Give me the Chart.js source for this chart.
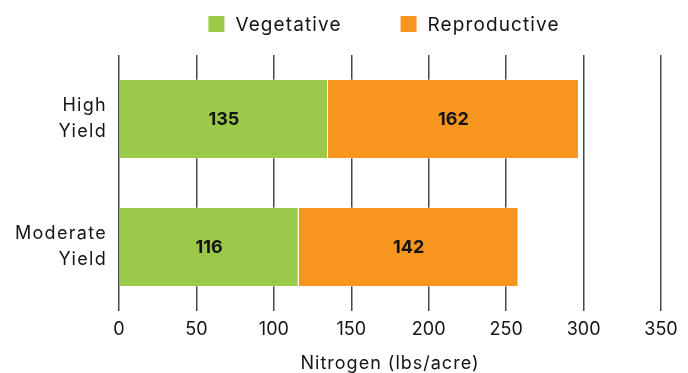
<!DOCTYPE html>
<html>
<head>
<meta charset="utf-8">
<script src="https://cdn.jsdelivr.net/npm/chart.js@4"></script>
<style>
  html, body { margin: 0; padding: 0; background: #ffffff; }
  #wrap { width: 688px; height: 373px; position: relative; }
</style>
</head>
<body>
<div id="wrap"><canvas id="chart"></canvas></div>
<script>
// Nitrogen uptake by growth stage
const categories = [['High', 'Yield'], ['Moderate', 'Yield']];
const vegetative = [135, 116];
const reproductive = [162, 142];
const seriesNames = ['Vegetative', 'Reproductive'];
const seriesColors = ['#9BC94A', '#F7961F'];
const xMax = 350;
const xStep = 50;

const FONT = 'Inter, "Noto Sans", sans-serif';
const INK = '#141414';
const WORD_SPACING = '1.3px';   // letter spacing for word labels (digits stay tight)

// Run a drawing method with extra letter spacing on the canvas context
function withSpacing(fn, spacing) {
  return function (...args) {
    const c = this.ctx;
    const prev = c.letterSpacing;
    c.letterSpacing = spacing;
    fn.apply(this, args);
    c.letterSpacing = prev;
  };
}

// Value labels centred inside each stacked segment
const segmentLabels = {
  id: 'segmentLabels',
  afterDatasetsDraw(chart) {
    const ctx = chart.ctx;
    ctx.save();
    ctx.font = '700 18px ' + FONT;
    ctx.fillStyle = INK;
    ctx.textAlign = 'center';
    ctx.textBaseline = 'middle';
    chart.data.datasets.forEach((ds, di) => {
      const meta = chart.getDatasetMeta(di);
      meta.data.forEach((bar, i) => {
        const p = bar.getProps(['x', 'y', 'base'], true);
        ctx.fillText(String(ds.data[i]), (p.x + p.base) / 2, p.y + 1);
      });
    });
    ctx.restore();
  }
};

// Single-row legend above the plot
const legendRow = {
  id: 'legendRow',
  afterDraw(chart) {
    const ctx = chart.ctx;
    const box = 16, textGap = 11, itemGap = 59, cy = 24;
    ctx.save();
    ctx.font = '400 19px ' + FONT;
    ctx.letterSpacing = '1.1px';
    ctx.textBaseline = 'middle';
    ctx.textAlign = 'left';
    const items = chart.data.datasets.map(ds => ({
      text: ds.label, color: ds.backgroundColor, w: ctx.measureText(ds.label).width
    }));
    const total = items.reduce((s, it) => s + box + textGap + it.w, 0) + itemGap * (items.length - 1);
    const area = chart.chartArea;
    let x = (area.left + area.right) / 2 - 6 - total / 2;
    items.forEach(it => {
      ctx.fillStyle = it.color;
      ctx.fillRect(x, cy - box / 2, box, box);
      ctx.fillStyle = INK;
      ctx.fillText(it.text, x + box + textGap, cy + 1);
      x += box + textGap + it.w + itemGap;
    });
    ctx.restore();
  }
};

new Chart(document.getElementById('chart'), {
  type: 'bar',
  data: {
    labels: categories,
    datasets: [
      { label: seriesNames[0], data: vegetative, backgroundColor: seriesColors[0],
        borderColor: 'rgba(255,255,255,0.35)', borderWidth: 1 },
      { label: seriesNames[1], data: reproductive, backgroundColor: seriesColors[1],
        borderColor: 'rgba(255,255,255,0.35)', borderWidth: 1 }
    ]
  },
  options: {
    indexAxis: 'y',
    responsive: true,
    maintainAspectRatio: false,
    animation: false,
    devicePixelRatio: 1,
    layout: { padding: { top: 55, right: 27, bottom: 0, left: 0 } },
    datasets: { bar: { barPercentage: 0.625, categoryPercentage: 1 } },
    plugins: {
      legend: { display: false },
      tooltip: { enabled: false }
    },
    scales: {
      x: {
        stacked: true,
        min: 0,
        max: xMax,
        ticks: {
          stepSize: xStep,
          color: INK,
          padding: 8,
          font: { family: FONT, size: 18 }
        },
        grid: { color: '#474747', lineWidth: 1.5, drawTicks: false },
        border: { display: false },
        title: {
          display: true,
          text: 'Nitrogen (lbs/acre)',
          color: INK,
          font: { family: FONT, size: 18, lineHeight: 1 },
          padding: { top: 6, bottom: 0 }
        },
        afterFit(scale) { scale.height = 62; },
        afterUpdate(scale) {
          if (!scale._spacedTitle) {
            scale.drawTitle = withSpacing(scale.drawTitle, '1px');
            scale._spacedTitle = true;
          }
        }
      },
      y: {
        stacked: true,
        ticks: {
          color: INK,
          padding: 12,
          font: { family: FONT, size: 18, lineHeight: 1.45 }
        },
        grid: { display: false, drawTicks: false },
        border: { display: false },
        afterFit(scale) { scale.width = 119; },
        afterUpdate(scale) {
          if (!scale._spacedLabels) {
            scale.drawLabels = withSpacing(scale.drawLabels, WORD_SPACING);
            scale._spacedLabels = true;
          }
        }
      }
    }
  },
  plugins: [segmentLabels, legendRow]
});
</script>
</body>
</html>
